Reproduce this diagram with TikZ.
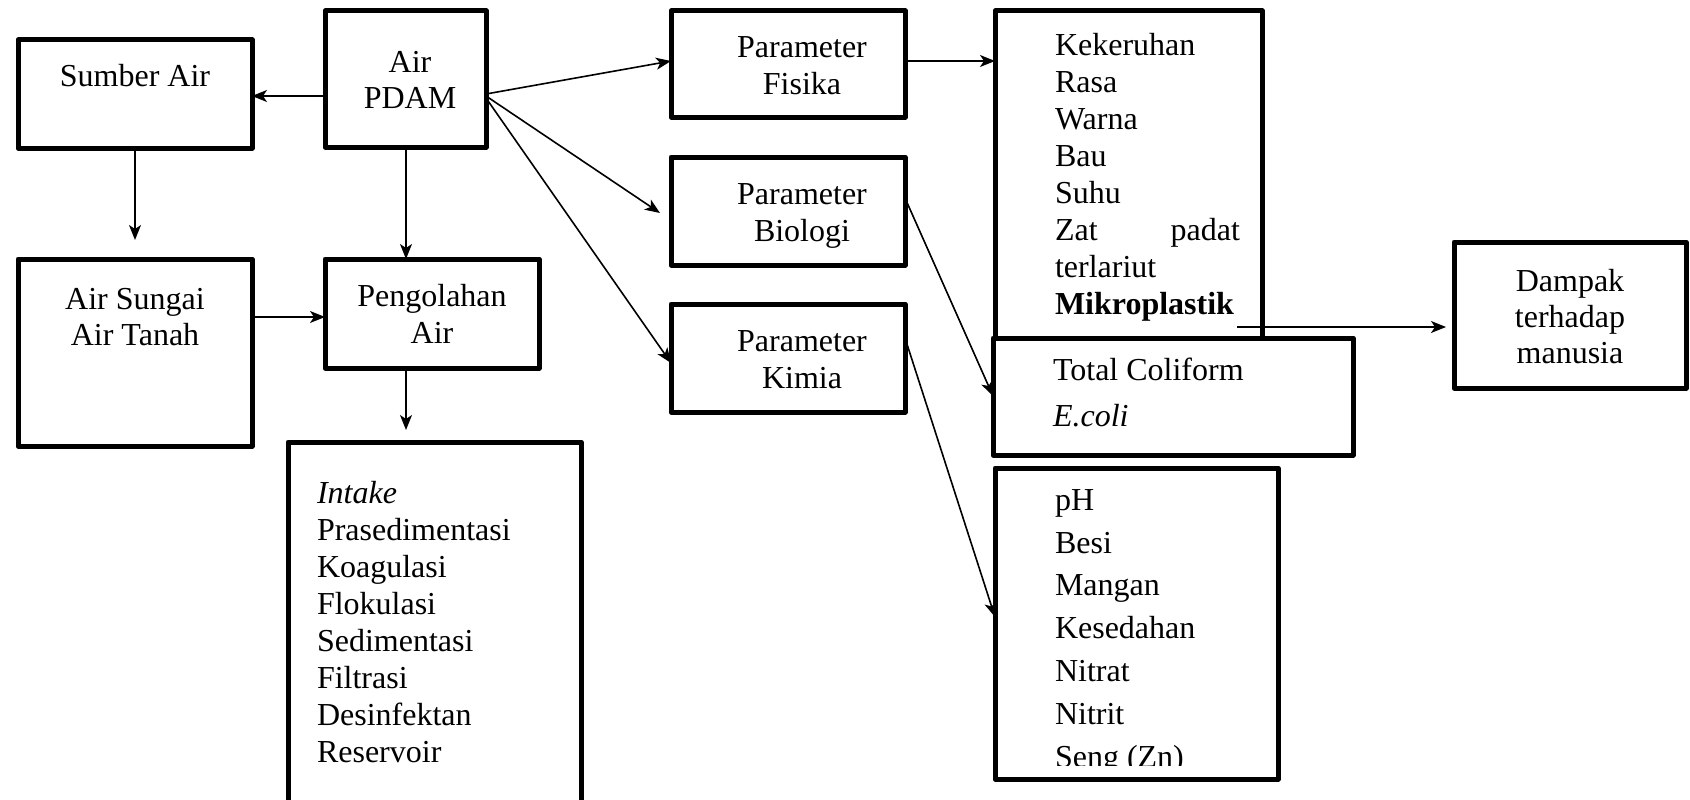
\documentclass[tikz,border=0pt]{standalone}
\usepackage{fontspec}
\setmainfont{Liberation Serif}
\usetikzlibrary{arrows.meta,calc}
\begin{document}
\begin{tikzpicture}[x=1pt,y=-1pt,
  box/.style={draw,line width=5pt,line join=round,inner sep=0pt,outer sep=0pt,anchor=north west,fill=white},
  arr/.style={line width=1.6pt,-{Stealth[length=15pt,width=12pt,inset=4pt]}},
  lbl/.style={inner sep=0pt,outer sep=0pt,font=\fontsize{32}{37}\selectfont},
]
\useasboundingbox (0,0) rectangle (1690,800);
\begin{scope}
\clip (0,0) rectangle (1690,800);
% boxes
\node[box,minimum width=234pt,minimum height=108pt] (sumber) at (18,40) {};
\node[box,minimum width=161pt,minimum height=136pt] (pdam) at (325,11) {};
\node[box,minimum width=234pt,minimum height=187pt] (sungai) at (18,259) {};
\node[box,minimum width=214pt,minimum height=109pt] (olah) at (325,259) {};
\node[box,minimum width=293pt,minimum height=380pt] (intake) at (288,442) {};
\node[box,minimum width=234pt,minimum height=106pt] (fisika) at (671,11) {};
\node[box,minimum width=234pt,minimum height=108pt] (biologi) at (671,157) {};
\node[box,minimum width=234pt,minimum height=108pt] (kimia) at (671,304) {};
\node[box,minimum width=267pt,minimum height=329pt] (fislist) at (995,11) {};
\node[box,minimum width=360pt,minimum height=117pt] (coli) at (993,338) {};
\node[box,minimum width=283pt,minimum height=311pt] (kimlist) at (995,468) {};
\node[box,minimum width=232pt,minimum height=146pt] (dampak) at (1454,242) {};
% texts (base anchor = baseline of last line)
\node[lbl,anchor=base,align=center] (tsumber) at (135,87) {Sumber Air};
\node[lbl,anchor=base,align=center,font=\fontsize{32}{36}\selectfont] (tpdam) at (410,109) {Air\\PDAM};
\node[lbl,anchor=base,align=center,font=\fontsize{32}{36}\selectfont] (tsungai) at (135,345) {Air Sungai\\Air Tanah};
\node[lbl,anchor=base,align=center] (tolah) at (432,343) {Pengolahan\\Air};
\node[lbl,anchor=base west,align=left] (tintake) at (317,762) {\textit{Intake}\\Prasedimentasi\\Koagulasi\\Flokulasi\\Sedimentasi\\Filtrasi\\Desinfektan\\Reservoir};
\node[lbl,anchor=base,align=center] (tfisika) at (802,95) {Parameter\\Fisika};
\node[lbl,anchor=base,align=center] (tbiologi) at (802,241) {Parameter\\Biologi};
\node[lbl,anchor=base,align=center] (tkimia) at (802,388) {Parameter\\Kimia};
\node[lbl,anchor=base west,align=left] (tfislist) at (1055,314) {Kekeruhan\\Rasa\\Warna\\Bau\\Suhu\\\makebox[185pt][s]{Zat padat}\\terlariut\\\textbf{Mikroplastik}};
\node[lbl,anchor=base west,align=left,font=\fontsize{32}{46}\selectfont] (tcoli) at (1053,426) {Total Coliform\\\textit{E.coli}};
\node[lbl,anchor=base,align=center,font=\fontsize{32}{36}\selectfont] (tdampak) at (1570,363) {Dampak\\terhadap\\manusia};
\begin{scope}
\clip (995,468) rectangle (1278,765);
\node[lbl,anchor=base west,align=left,font=\fontsize{32}{42.8}\selectfont] (tkimlist) at (1055,767) {pH\\Besi\\Mangan\\Kesedahan\\Nitrat\\Nitrit\\Seng (Zn)};
\end{scope}
\end{scope}
% connectors
\coordinate (sa) at (135,240);
\coordinate (ot) at (406,430);
\coordinate (bt) at (660,213);
\coordinate (mk) at (1237,327);
\coordinate (dk) at (1446,327);
\draw[arr] (pdam.west |- 0,96) -- (sumber.east |- 0,96);
\draw[arr] (sumber.south) -- (sa);
\draw[arr] (pdam.south -| ot) -- (olah.north -| ot);
\draw[arr] (sungai.east |- 0,317) -- (olah.west |- 0,317);
\draw[arr] (olah.south -| ot) -- (ot);
\draw[arr] (pdam.east |- 0,94) -- (fisika.west |- 0,61);
\draw[arr] (pdam.east |- 0,96) -- (bt);
\draw[arr] (pdam.east |- 0,98) -- (kimia.west |- 0,363);
\draw[arr] (fisika.east |- 0,61) -- (fislist.west |- 0,61);
\draw[arr] (biologi.east |- 0,198) -- (coli.west |- 0,396);
\draw[arr] (kimia.east |- 0,338) -- (kimlist.west |- 0,617);
\draw[arr] (mk) -- (dk);
\end{tikzpicture}
\end{document}
